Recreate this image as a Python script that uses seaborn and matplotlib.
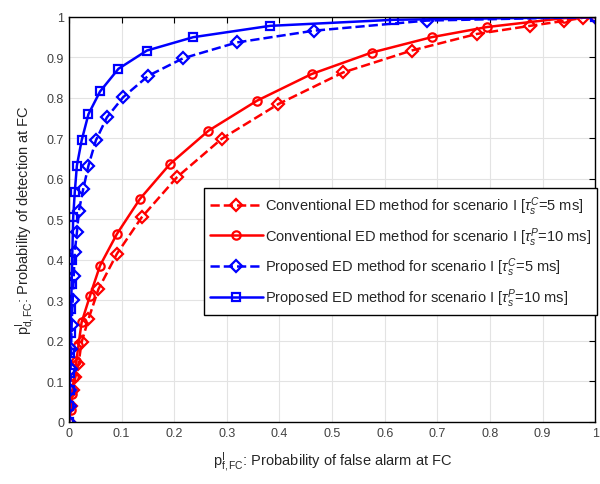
import numpy as np
import matplotlib
matplotlib.use("Agg")
import matplotlib.pyplot as plt
from matplotlib.ticker import FormatStrFormatter
import seaborn as sns

# ROC points
conv_5_pf = [0, 0.004, 0.008, 0.012, 0.018, 0.024, 0.037, 0.056, 0.091, 0.138, 0.205,
             0.290, 0.398, 0.521, 0.651, 0.775, 0.876, 0.94, 0.977, 1.0]
conv_5_pd = [0, 0.04, 0.08, 0.11, 0.143, 0.197, 0.254, 0.328, 0.415, 0.505, 0.604,
             0.699, 0.785, 0.863, 0.917, 0.958, 0.978, 0.99, 0.998, 1.0]

conv_10_pf = [0, 0.003, 0.006, 0.010, 0.014, 0.018, 0.024, 0.040, 0.059, 0.091, 0.135,
              0.192, 0.265, 0.357, 0.461, 0.575, 0.689, 0.794, 0.94, 1.0]
conv_10_pd = [0, 0.03, 0.07, 0.11, 0.15, 0.19, 0.246, 0.312, 0.386, 0.464, 0.551,
              0.637, 0.719, 0.793, 0.859, 0.912, 0.950, 0.975, 0.997, 1.0]

prop_5_pf = [0, 0.001, 0.002, 0.003, 0.004, 0.005, 0.007, 0.009, 0.011, 0.015, 0.019,
             0.027, 0.037, 0.051, 0.072, 0.103, 0.151, 0.217, 0.319, 0.465, 0.680, 1.0]
prop_5_pd = [0, 0.04, 0.08, 0.13, 0.18, 0.24, 0.30, 0.36, 0.42, 0.468, 0.522,
             0.575, 0.633, 0.695, 0.752, 0.802, 0.855, 0.898, 0.937, 0.966, 0.991, 1.0]

prop_10_pf = [0, 0.0005, 0.001, 0.0015, 0.002, 0.003, 0.004, 0.005, 0.006, 0.008, 0.011,
              0.015, 0.024, 0.037, 0.059, 0.094, 0.148, 0.236, 0.382, 0.617, 1.0]
prop_10_pd = [0, 0.04, 0.08, 0.12, 0.17, 0.22, 0.28, 0.34, 0.40, 0.506, 0.568,
              0.633, 0.695, 0.760, 0.816, 0.872, 0.917, 0.950, 0.978, 0.993, 1.0]

labels = [
    r"Conventional ED method for scenario I [$\tau_s^C$=5 ms]",
    r"Conventional ED method for scenario I [$\tau_s^P$=10 ms]",
    r"Proposed ED method for scenario I [$\tau_s^C$=5 ms]",
    r"Proposed ED method for scenario I [$\tau_s^P$=10 ms]",
]

sns.set_style("whitegrid", {"axes.edgecolor": "black", "grid.color": "#e3e3e3",
                            "xtick.direction": "in", "ytick.direction": "in"})
plt.rcParams["font.family"] = ["Liberation Sans", "DejaVu Sans"]
plt.rcParams["mathtext.fontset"] = "custom"
plt.rcParams["mathtext.rm"] = "Liberation Sans"
plt.rcParams["mathtext.it"] = "Liberation Sans:italic"

fig = plt.figure(figsize=(6, 4.85), dpi=100)
ax = fig.add_axes([0.115, 0.128, 0.877, 0.835])

series = [
    (conv_5_pf, conv_5_pd, "red", "--", "D"),
    (conv_10_pf, conv_10_pd, "red", "-", "o"),
    (prop_5_pf, prop_5_pd, "blue", "--", "D"),
    (prop_10_pf, prop_10_pd, "blue", "-", "s"),
]
for (xs, ys, col, ls, mk), lab in zip(series, labels):
    sns.lineplot(x=xs, y=ys, ax=ax, sort=False, estimator=None, color=col,
                 linestyle=ls, linewidth=1.8, marker=mk, markersize=6,
                 markerfacecolor="none", markeredgecolor=col, markeredgewidth=1.6,
                 label=lab)

ax.set_xlim(0, 1)
ax.set_ylim(0, 1)
ax.set_xticks(np.arange(0, 1.01, 0.1))
ax.set_yticks(np.arange(0, 1.01, 0.1))
ax.xaxis.set_major_formatter(FormatStrFormatter("%g"))
ax.yaxis.set_major_formatter(FormatStrFormatter("%g"))
ax.tick_params(axis="both", which="both", direction="in", length=4, width=0.8,
               top=True, right=True, labelsize=9, labelcolor="#404040", color="black")
for s in ax.spines.values():
    s.set_color("black")
    s.set_linewidth(1.0)

ax.set_xlabel(r"$\mathrm{p}^{\mathrm{I}}_{\mathrm{f,FC}}$: Probability of false alarm at FC",
              fontsize=10.5, color="#262626", labelpad=8)
ax.set_ylabel(r"$\mathrm{p}^{\mathrm{I}}_{\mathrm{d,FC}}$: Probability of detection at FC",
              fontsize=10.5, color="#262626", labelpad=6)

leg = ax.legend(loc="lower right", bbox_to_anchor=(1.004, 0.265), fontsize=10.5,
                frameon=True, fancybox=False, edgecolor="black", framealpha=1,
                handlelength=3.6, borderpad=0.4, labelspacing=0.55, handletextpad=0.2,
                borderaxespad=0)
leg.get_frame().set_linewidth(1.0)

fig.savefig("out.png", dpi=100)
